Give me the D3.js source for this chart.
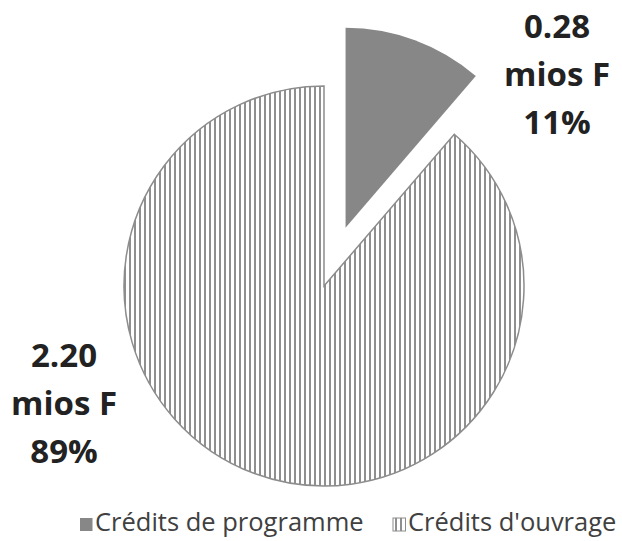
<!DOCTYPE html>
<html>
<head>
<meta charset="utf-8">
<script src="https://cdn.jsdelivr.net/npm/d3@7"></script>
<style>
  body { margin: 0; background: #fff; }
  svg { display: block; }
</style>
</head>
<body>
<svg id="chart"></svg>
<script>
const categories = ["Crédits de programme", "Crédits d'ouvrage"];
const amounts = [0.28, 2.20];
const amountLabels = ["0.28", "2.20"];
const shareLabels = ["11%", "89%"];

const width = 622;
const height = 541;
const cx = 324;
const cy = 286;
const radius = 200;
const explode = 62;

const svg = d3.select("#chart").attr("width", width).attr("height", height);

const defs = svg.append("defs");
const pat = defs
  .append("pattern")
  .attr("id", "vstripes")
  .attr("patternUnits", "userSpaceOnUse")
  .attr("width", 5)
  .attr("height", 5);
pat.append("rect").attr("width", 5).attr("height", 5).attr("fill", "#fff");
pat.append("rect").attr("x", 0).attr("width", 2).attr("height", 5).attr("fill", "#8f8f8f");

const pie = d3.pie().sort(null).value((d) => d);
const arcs = pie(amounts);
const arc = d3.arc().innerRadius(0).outerRadius(radius);

const g = svg.append("g").attr("transform", `translate(${cx},${cy})`);

g.selectAll("path")
  .data(arcs)
  .enter()
  .append("path")
  .attr("d", arc)
  .attr("transform", (d, i) => {
    if (i !== 0) return null;
    const a = (d.startAngle + d.endAngle) / 2;
    return `translate(${Math.sin(a) * explode},${-Math.cos(a) * explode})`;
  })
  .attr("fill", (d, i) => (i === 0 ? "#878787" : "url(#vstripes)"))
  .attr("stroke", (d, i) => (i === 0 ? "none" : "#8c8c8c"))
  .attr("stroke-width", 1.5);

// data labels
const labelPos = [
  { x: 557, y: 38 },
  { x: 64, y: 367 },
];
arcs.forEach((d, i) => {
  const t = svg
    .append("text")
    .attr("x", labelPos[i].x)
    .attr("y", labelPos[i].y)
    .attr("text-anchor", "middle")
    .attr("font-family", "'Open Sans', sans-serif")
    .attr("font-weight", "bold")
    .attr("font-size", 33)
    .attr("fill", "#222");
  [amountLabels[i], "mios F", shareLabels[i]].forEach((s, j) => {
    t.append("tspan").attr("x", labelPos[i].x).attr("dy", j === 0 ? 0 : 48).text(s);
  });
});

// legend
const legend = svg.append("g").attr("transform", "translate(0,531)");
const legendX = [80, 393];
categories.forEach((c, i) => {
  legend
    .append("rect")
    .attr("x", legendX[i])
    .attr("y", -13)
    .attr("width", 12.5)
    .attr("height", 13)
    .attr("fill", i === 0 ? "#878787" : "url(#vstripes)")
    .attr("stroke", i === 0 ? "none" : "#8c8c8c")
    .attr("stroke-width", 1);
  legend
    .append("text")
    .attr("x", legendX[i] + 15)
    .attr("y", 0)
    .attr("font-family", "'Open Sans', sans-serif")
    .attr("font-size", 25.5)
    .attr("fill", "#404040")
    .text(c);
});
</script>
</body>
</html>
